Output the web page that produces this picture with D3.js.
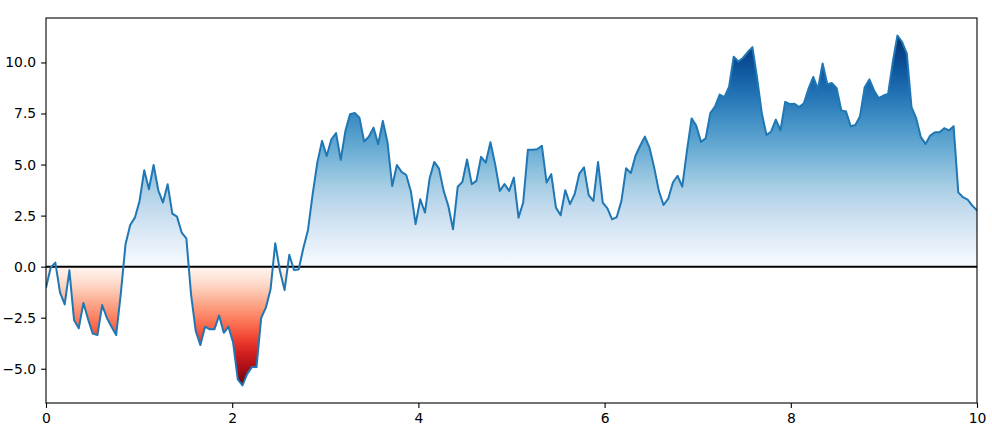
<!DOCTYPE html>
<html><head><meta charset="utf-8">
<script src="https://cdn.jsdelivr.net/npm/d3@7"></script>
<style>body{margin:0;background:#fff}svg{display:block}</style>
</head><body><svg id="c" width="992" height="427"></svg>
<script>
const xStart = 0, xEnd = 10;
const values = [
-1.03,-0.05,0.20,-1.27,-1.85,-0.18,-2.63,-3.02,-1.78,-2.58,
-3.28,-3.35,-1.88,-2.50,-2.94,-3.35,-1.30,1.10,2.04,2.40,
3.22,4.72,3.79,4.98,3.74,3.14,4.04,2.60,2.45,1.67,
1.39,-1.36,-3.15,-3.84,-2.94,-3.07,-3.07,-2.39,-3.24,-2.94,
-3.73,-5.52,-5.82,-5.25,-4.92,-4.92,-2.50,-2.01,-1.11,1.15,
-0.20,-1.15,0.58,-0.16,-0.14,0.90,1.80,3.55,5.10,6.16,
5.42,6.24,6.54,5.23,6.65,7.47,7.53,7.30,6.13,6.36,
6.81,6.00,7.14,6.08,3.95,4.98,4.64,4.49,3.68,2.08,
3.30,2.65,4.33,5.13,4.80,3.71,2.97,1.83,3.91,4.15,
5.25,4.04,4.20,5.38,5.10,6.09,5.02,3.71,4.04,3.71,
4.36,2.40,3.14,5.72,5.72,5.75,5.92,4.12,4.53,2.89,
2.52,3.74,3.06,3.55,4.56,4.86,3.50,3.22,5.13,3.14,
2.85,2.32,2.43,3.22,4.82,4.58,5.43,5.92,6.37,5.83,
4.85,3.71,3.02,3.33,4.12,4.45,3.92,5.67,7.26,6.90,
6.11,6.28,7.52,7.84,8.43,8.30,8.80,10.28,10.05,10.23,
10.51,10.75,9.23,7.52,6.45,6.62,7.20,6.68,8.07,7.96,
7.98,7.82,8.00,8.72,9.29,8.70,9.95,8.93,8.99,8.74,
7.65,7.60,6.88,6.94,7.37,8.79,9.17,8.63,8.25,8.38,
8.46,10.02,11.32,11.00,10.43,7.81,7.27,6.34,6.01,6.42,
6.58,6.58,6.78,6.67,6.88,3.64,3.40,3.28,2.99,2.75];
const xTicks = [0, 2, 4, 6, 8, 10];
const yTicks = [-5, -2.5, 0, 2.5, 5, 7.5, 10];

const n = values.length;
const data = values.map((v, i) => ({x: xStart + (xEnd - xStart) * i / (n - 1), y: v}));

const svg = d3.select("#c");
const L = 46, R = 977, T = 18, B = 403;
const vmin = d3.min(values), vmax = d3.max(values);
const pad = (vmax - vmin) * 0.05;
const x = d3.scaleLinear().domain([xStart, xEnd]).range([L, R]);
const y = d3.scaleLinear().domain([vmin - pad, vmax + pad]).range([B, T]);

// gradient: Blues above zero, Reds below
const defs = svg.append("defs");
const grad = defs.append("linearGradient").attr("id", "g")
  .attr("gradientUnits", "userSpaceOnUse")
  .attr("x1", 0).attr("x2", 0).attr("y1", y(vmax)).attr("y2", y(vmin));
const total = vmax - vmin, zeroOff = vmax / total;
const N = 30;
for (let k = 0; k <= N; k++) {
  const t = k / N; // 0 at vmax
  const v = vmax - t * vmax;
  grad.append("stop").attr("offset", t * zeroOff).attr("stop-color", d3.interpolateBlues(v / vmax));
}
for (let k = 0; k <= N; k++) {
  const t = k / N;
  const v = t * vmin;
  grad.append("stop").attr("offset", zeroOff + t * (1 - zeroOff)).attr("stop-color", d3.interpolateReds(v / vmin));
}

defs.append("clipPath").attr("id", "clip").append("rect")
  .attr("x", L).attr("y", T).attr("width", R - L).attr("height", B - T);

const g = svg.append("g").attr("clip-path", "url(#clip)");
g.append("path").datum(data)
  .attr("d", d3.area().x(d => x(d.x)).y0(y(0)).y1(d => y(d.y)))
  .attr("fill", "url(#g)");
g.append("line").attr("x1", L).attr("x2", R).attr("y1", y(0)).attr("y2", y(0))
  .attr("stroke", "#000").attr("stroke-width", 2);
g.append("path").datum(data)
  .attr("d", d3.line().x(d => x(d.x)).y(d => y(d.y)))
  .attr("fill", "none").attr("stroke", "#1f77b4").attr("stroke-width", 2)
  .attr("stroke-linejoin", "round");

// axes
const font = "DejaVu Sans, sans-serif";
const xa = svg.append("g").attr("transform", `translate(0,${B})`)
  .call(d3.axisBottom(x).tickValues(xTicks).tickFormat(d3.format("d")).tickSizeInner(4.9).tickSizeOuter(0).tickPadding(4.9));
const ya = svg.append("g").attr("transform", `translate(${L},0)`)
  .call(d3.axisLeft(y).tickValues(yTicks).tickFormat(d3.format(".1f")).tickSizeInner(4.9).tickSizeOuter(0).tickPadding(4.9));
[xa, ya].forEach(a => {
  a.select(".domain").remove();
  a.selectAll("line").attr("stroke", "#000").attr("stroke-width", 1.1);
  a.selectAll("text").attr("font-family", font).attr("font-size", "13.9px").attr("fill", "#000");
});
svg.append("rect").attr("x", L).attr("y", T).attr("width", R - L).attr("height", B - T)
  .attr("fill", "none").attr("stroke", "#000").attr("stroke-width", 1.1);
</script></body></html>
